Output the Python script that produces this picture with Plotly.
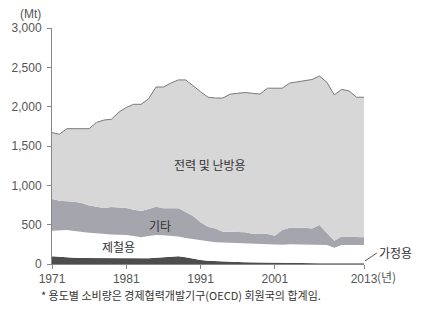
import plotly.graph_objects as go

years = list(range(1971, 2014))

# cumulative boundaries (Mt)
household_top = [100, 90, 80, 78, 76, 75, 74, 73, 73, 72, 72, 72, 72, 74, 78, 85, 95, 100, 85, 65,
                 50, 42, 36, 32, 28, 25, 22, 20, 18, 16, 15, 14, 13, 12, 12, 11, 11, 10, 10, 10,
                 10, 10, 10]
steel_top = [423, 428, 432, 420, 405, 398, 390, 380, 375, 372, 369, 355, 340, 355, 369, 365, 358, 350, 330, 315,
             300, 290, 278, 272, 268, 262, 258, 254, 250, 245, 241, 245, 250, 250, 250, 250, 248, 241, 207, 241,
             241, 241, 241]
other_top = [826, 805, 798, 792, 775, 745, 728, 711, 724, 718, 711, 690, 673, 700, 728, 708, 708, 708, 660, 610,
             530, 474, 450, 411, 411, 411, 405, 385, 381, 381, 360, 432, 462, 462, 462, 450, 496, 394, 297, 348,
             345, 340, 339]
total = [1670, 1650, 1720, 1720, 1720, 1720, 1800, 1830, 1840, 1930, 1990, 2030, 2030, 2100, 2250, 2250, 2300, 2340, 2340, 2260,
         2190, 2120, 2110, 2110, 2160, 2170, 2180, 2170, 2160, 2235, 2235, 2235, 2300, 2315, 2330, 2345, 2390, 2310, 2150, 2220,
         2200, 2120, 2120]

series_names = ["가정용", "제철용", "기타", "전력 및 난방용"]
y_ticks = [0, 500, 1000, 1500, 2000, 2500, 3000]
y_tick_text = ["0", "500", "1,000", "1,500", "2,000", "2,500", "3,000"]
x_ticks = [1971, 1981, 1991, 2001, 2013]
x_tick_text = ["1971", "1981", "1991", "2001", "2013"]

W, H = 423, 316
L, R, T, B = 48, 59, 28, 52
PW, PH = W - L - R, H - T - B
X0, X1, Y0, Y1 = 1971, 2013, 0, 3000


def px(xp):
    return (xp - L) / PW


def py(yp):
    return (H - B - yp) / PH


KFONT = "Noto Sans CJK KR"
fig = go.Figure()
fig.add_trace(go.Scatter(x=years, y=household_top, mode="lines", line=dict(width=0, color="#4d4d4d"),
                         fill="tozeroy", fillcolor="#4d4d4d", name=series_names[0], hoverinfo="skip"))
fig.add_trace(go.Scatter(x=years, y=steel_top, mode="lines", line=dict(width=0, color="#ffffff"),
                         fill="tonexty", fillcolor="#ffffff", name=series_names[1], hoverinfo="skip"))
fig.add_trace(go.Scatter(x=years, y=other_top, mode="lines", line=dict(width=0, color="#a5a5ad"),
                         fill="tonexty", fillcolor="#a5a5ad", name=series_names[2], hoverinfo="skip"))
fig.add_trace(go.Scatter(x=years, y=total, mode="lines", line=dict(width=1, color="#7a7a7a"),
                         fill="tonexty", fillcolor="#d7d7d7", name=series_names[3], hoverinfo="skip"))

ann = [
    dict(x=1992.3, y=1260, xref="x", yref="y", text="전력 및 난방용",
         font=dict(family=KFONT, size=12, color="#333333")),
    dict(x=1985.6, y=495, xref="x", yref="y", text="기타",
         font=dict(family=KFONT, size=12, color="#333333")),
    dict(x=1980.0, y=228, xref="x", yref="y", text="제철용",
         font=dict(family=KFONT, size=12, color="#333333")),
    dict(x=px(396), y=py(252), xref="paper", yref="paper", text="가정용",
         font=dict(family=KFONT, size=12, color="#333333")),
    dict(x=px(26), y=py(14), xref="paper", yref="paper", text="(Mt)",
         font=dict(family="Liberation Sans", size=12, color="#555555")),
    dict(x=px(375), y=py(276), xref="paper", yref="paper", text="(년)", xanchor="left",
         font=dict(family=KFONT, size=12, color="#555555")),
    dict(x=px(35), y=py(295), xref="paper", yref="paper", text="* 용도별 소비량은 경제협력개발기구(OECD) 회원국의 합계임.",
         xanchor="left", font=dict(family=KFONT, size=11, color="#333333")),
]
for a in ann:
    a.setdefault("xanchor", "center")
    a["yanchor"] = "middle"
    a["showarrow"] = False

fig.update_layout(
    width=W, height=H, margin=dict(l=L, r=R, t=T, b=B),
    paper_bgcolor="white", plot_bgcolor="white", showlegend=False,
    annotations=ann,
    shapes=[dict(type="line", xref="paper", yref="paper", x0=px(365), y0=py(261), x1=px(377), y1=py(253),
                 line=dict(color="#555555", width=1))],
    xaxis=dict(range=[X0, X1], tickvals=x_ticks, ticktext=x_tick_text, showgrid=False, zeroline=False,
               showline=True, linecolor="#888888", linewidth=1, ticks="outside", ticklen=4, tickcolor="#888888",
               tickfont=dict(family="Liberation Sans", size=12, color="#555555")),
    yaxis=dict(range=[Y0, Y1], tickvals=y_ticks, ticktext=y_tick_text, showgrid=False, zeroline=False,
               showline=True, linecolor="#888888", linewidth=1, ticks="outside", ticklen=4, tickcolor="#888888",
               ticklabelstandoff=3,
               tickfont=dict(family="Liberation Sans", size=12, color="#555555")),
)

fig.write_html("out.html")
